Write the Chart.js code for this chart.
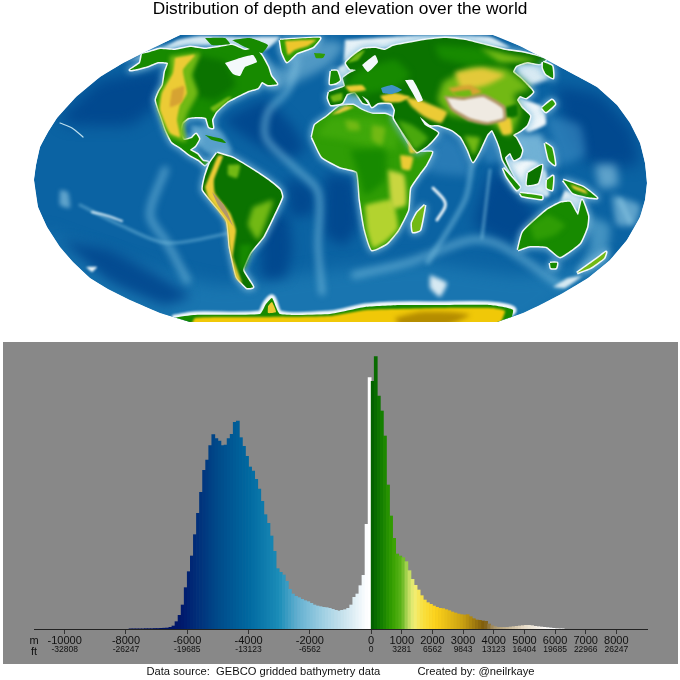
<!DOCTYPE html>
<html>
<head>
<meta charset="utf-8">
<script src="https://cdn.jsdelivr.net/npm/chart.js@4/dist/chart.umd.min.js"></script>
<style>
  html, body { margin: 0; padding: 0; background: #fff; }
  #page { position: relative; width: 680px; height: 680px; overflow: hidden; }
  #panel { position: absolute; left: 3px; top: 342px; width: 675px; height: 322px; background: #888888; }
  #mapChart { position: absolute; left: 0; top: 0; filter: blur(0.4px); }
  #histChart { position: absolute; left: 0; top: 340px; filter: blur(0.3px); }
</style>
</head>
<body>
<div id="page">
  <div id="panel"></div>
  <canvas id="mapChart" width="680" height="340"></canvas>
  <canvas id="histChart" width="680" height="340"></canvas>
</div>
<script>
// histogram, 100 m bins
const binWidth = 100;
const oceanStart = -7900;
const oceanHeights = [0.5,0.5,0.5,0.5,0.5,1,1,1,1.5,1.5,2,2.5,3,5,9,22,41,72,124,
  172,219,283,347,410,476,507,550,583,571,564,550,552,571,584,620,624,574,548,518,486,474,449,420,383,343,317,279,233,181,
  170,162,143,119,105,98,94,89,85,82,77,72,69,67,65,64,62,59,56,54,
  56,58,62,72,95,105,130,161,314,754];
const landStart = 0;
const landHeights = [743,817,699,654,579,432,339,272,225,219,214,202,175,149,131,117,100,87,79,74,
  69,65,62,61,58,55,51,48,45,43,42,43,37,31,27,26,24,23,15,10,
  7,5,5,5,5,6,7,8,9,10,11,11,10,8,7,6,5,4,3,2,1,0.5,0.5];

// axis labels
const metreTicks = [-11000,-10000,-8000,-6000,-4000,-2000,0,1000,2000,3000,4000,5000,6000,7000,8000];
const metreLabels = ['m','-10000','-8000','-6000','-4000','-2000','0','1000','2000','3000','4000','5000','6000','7000','8000'];
const feetLabels = ['ft','-32808','-26247','-19685','-13123','-6562','0','3281','6562','9843','13123','16404','19685','22966','26247'];

const depthStops = [-7500,-6200,-5000,-4000,-3000,-2400,-1500,-800,-100];
const depthColours = ['#00105a','#00186c','#004a8a','#0068a0','#1b8db8','#62afd0','#a4d2e4','#cfe6f0','#ffffff'];
const landStops = [0,300,700,1000,1200,1400,1700,2100,3000,3700,4000,5000,5800];
const landColours = ['#005c00','#0f7a00','#35a000','#5cb41a','#b6d95c','#f1ee78','#f8e040','#fcd21a','#c9a012','#7d5a0c','#a89468','#e8dcc8','#ffffff'];

// map outlines in map units
const outline = [[180,35],[493,35],[520,46],[547,60],[575,75],[597,87],[617,105],[630,123],[640,143],[645,163],[647,183],[645,200],[640,217],[627,240],[610,260],[588,278],[563,293],[540,305],[523,313],[497,322],[190,322],[160,313],[130,300],[108,289],[90,278],[73,262],[60,247],[47,227],[38,207],[34,180],[36,165],[40,147],[48,132],[57,118],[76,97],[100,77],[123,63],[153,48]];
const southBand = [[40,230],[130,262],[220,285],[330,270],[420,262],[520,275],[620,260],[563,300],[523,325],[190,330],[110,300]];
const deepNePacific = [[100,80],[165,70],[157,105],[130,125],[70,125],[60,118]];
const deepNwPacific = [[555,85],[600,95],[632,130],[638,165],[600,165],[585,160],[565,125]];
const deepAtlantic = [[222,120],[265,100],[292,125],[305,150],[285,158],[250,140]];
const deepIndian = [[498,165],[530,205],[545,230],[510,243],[475,225],[485,185]];
const deepSAtlantic = [[262,217],[287,215],[292,250],[285,277],[262,278]];
const deepBrazil = [[287,177],[315,190],[312,215],[290,215]];
const deepSPacific = [[60,240],[110,250],[190,295],[165,305],[110,282]];
const deepAngola = [[325,175],[352,178],[358,225],[345,245],[325,235]];
const ridgeAtlantic = [[297,60],[288,90],[268,112],[266,138],[292,165],[318,192],[318,245],[322,292]];
const ridgePacific = [[165,170],[150,215],[167,243],[187,280]];
const ridgeSouthPacific = [[80,205],[120,225],[167,243],[235,232]];
const ridgeIndian = [[490,170],[482,238]];
const ridgeSwIndian = [[355,275],[410,262],[470,240],[500,245],[560,285]];
const ridgeNorth = [[472,165],[465,200],[428,262]];
const ridgeTonga = [[620,200],[630,222]];
const hawaiiChain = [[60,123],[72,128],[83,137]];
const seamountsSouth = [[92,212],[108,216],[122,221]];
const madagascarRidge = [[433,188],[444,200],[445,207],[437,220]];
const kerguelen = [[430,275],[447,283],[440,297],[430,288]];
const campbell = [[553,287],[568,278],[582,276],[565,288]];
const edgePatch = [[86,267],[97,267],[92,272]];
const tongaPlateau = [[60,190],[68,192],[70,208],[60,205]];
const fijiPlateau = [[612,195],[640,205],[635,225],[617,225]];
const ontongPlateau = [[595,165],[615,165],[618,185],[600,188]];
const philippineSea = [[545,115],[580,125],[585,155],[560,165],[552,140]];
const arabianSea = [[440,130],[462,145],[472,175],[450,175],[425,170]];
const bengalBay = [[483,137],[498,140],[497,162],[485,162]];
const tasmanLight = [[585,215],[610,225],[605,260],[580,270],[590,245]];
const arcticNorth = [[345,40],[410,36],[490,37],[510,48],[470,45],[420,45],[375,50],[345,62]];
const arcticAlaska = [[123,63],[160,49],[178,40],[200,36],[240,37],[280,37],[265,50],[220,46],[185,46]];
const labradorSea = [[262,62],[285,68],[300,48],[330,40],[345,45],[330,65],[290,85],[272,90]];
const okhotsk = [[515,63],[543,64],[549,78],[530,85],[518,75]];
const chinaShelf = [[518,97],[543,107],[546,124],[528,132],[518,118]];
const southChinaSea = [[515,135],[542,135],[548,170],[525,168],[520,155]];
const sundaShelf = [[506,158],[522,160],[536,162],[546,172],[549,196],[530,196],[516,192],[505,175]];
const arafura = [[565,190],[585,198],[578,210],[560,205]];
const caribbean = [[190,125],[220,130],[232,150],[225,158],[205,152],[195,140]];
const northSea = [[338,68],[352,60],[358,70],[345,85],[335,85]];
const medLight = [[335,104],[355,95],[372,108],[395,112],[394,118],[365,118],[345,112]];
const northAmerica = [[142,54],[150,52],[160,49],[175,50],[190,47],[205,49],[220,47],[232,45],[245,50],[255,48],[262,56],[268,67],[271,76],[277,84],[268,85],[262,82],[258,88],[248,91],[236,97],[228,101],[222,106],[216,112],[212,120],[213,128],[209,127],[206,118],[197,117],[188,118],[182,123],[180,133],[184,140],[192,138],[196,134],[199,139],[195,146],[190,150],[197,154],[203,161],[208,162],[205,165],[199,160],[190,155],[181,148],[172,142],[166,130],[162,118],[159,110],[156,100],[159,92],[163,85],[165,72],[168,63],[158,62],[148,66],[137,69],[130,70],[140,63]];
const hudsonBay = [[225,63],[240,58],[253,55],[257,62],[245,67],[240,76],[233,74]];
const baffin = [[232,40],[250,38],[268,45],[262,53],[245,47]];
const arcticIslands = [[205,38],[225,38],[230,44],[212,45]];
const cuba = [[205,135],[222,139],[226,143],[212,140]];
const rockies = [[175,58],[195,55],[183,70],[187,93],[180,105],[177,120],[180,137],[170,133],[160,110],[162,93],[173,73]];
const rockiesEdge = [[170,56],[200,53],[192,75],[198,93],[188,112],[184,125],[186,142],[168,135],[158,108],[160,92],[170,73]];
const colorado = [[172,90],[184,86],[182,102],[170,107]];
const canadaDark = [[195,55],[225,62],[235,85],[215,100],[195,95],[192,72]];
const appalachian = [[210,108],[228,97],[232,97],[214,112]];
const greenland = [[280,40],[320,38],[313,47],[297,53],[287,62],[282,52]];
const greenlandIce = [[285,41],[316,40],[308,46],[295,50],[288,55]];
const iceland = [[314,53],[325,54],[323,58],[316,58]];
const southAmerica = [[217,153],[233,158],[253,170],[268,180],[280,190],[282,197],[273,217],[263,237],[250,253],[243,270],[253,287],[247,288],[237,277],[230,247],[227,220],[203,190],[205,177],[210,163]];
const andes = [[205,187],[212,170],[218,156],[223,156],[214,180],[215,193],[230,213],[236,230],[233,257],[242,283],[236,278],[230,250],[226,222],[208,197]];
const altiplano = [[212,192],[224,205],[233,226],[230,222],[218,205]];
const guiana = [[228,165],[240,165],[237,178],[228,175]];
const brazilHigh = [[253,207],[273,200],[266,222],[258,240],[248,225]];
const pampas = [[240,245],[252,245],[245,268],[240,270]];
const africa = [[312,137],[315,125],[325,118],[330,114],[340,106],[353,105],[362,110],[373,114],[385,114],[394,118],[402,135],[412,150],[420,152],[432,152],[426,165],[420,173],[410,188],[408,210],[398,230],[387,243],[372,250],[365,230],[360,200],[357,172],[340,167],[322,157]];
const sahel = [[330,118],[375,118],[398,130],[395,150],[345,140],[318,135]];
const saharaSpots = [[345,120],[358,122],[360,130],[348,130]];
const ahaggar = [[372,125],[385,128],[382,145],[372,140]];
const congo = [[350,150],[385,150],[385,180],[365,195],[358,172]];
const southAfrica = [[365,205],[392,200],[398,228],[386,241],[373,248],[367,230]];
const eastAfrica = [[388,170],[404,175],[406,205],[392,208]];
const ethiopia = [[400,155],[413,157],[410,170],[402,169]];
const atlas = [[331,115],[345,106],[354,107],[340,113]];
const madagascar = [[425,205],[420,230],[413,232],[412,223],[417,213]];
const eurasia = [[329,92],[338,89],[345,86],[343,78],[350,73],[356,70],[350,69],[346,63],[353,56],[363,49],[375,48],[385,50],[393,46],[408,43],[425,40],[445,38],[465,40],[485,45],[505,50],[525,53],[546,59],[540,64],[527,62],[516,66],[513,72],[520,78],[527,85],[533,92],[526,98],[520,96],[517,100],[522,108],[530,116],[527,125],[520,131],[513,135],[516,138],[522,150],[520,157],[514,160],[510,153],[505,158],[510,170],[518,185],[510,172],[503,160],[500,148],[497,140],[492,130],[487,135],[480,150],[473,162],[468,150],[461,137],[452,130],[438,125],[430,125],[420,117],[425,125],[438,133],[428,145],[417,152],[408,140],[400,128],[394,118],[395,110],[391,103],[378,103],[372,107],[368,100],[362,96],[368,104],[363,103],[355,92],[347,94],[342,103],[331,105],[328,98]];
const blackSea = [[381,88],[392,85],[402,90],[392,94],[383,93]];
const caspian = [[405,80],[413,80],[423,100],[418,102],[412,92]];
const baltic = [[362,65],[375,55],[378,62],[368,72]];
const uk = [[331,71],[337,71],[340,80],[336,83],[330,84]];
const kamchatka = [[543,62],[552,66],[553,78],[546,74],[543,68]];
const japan = [[542,108],[552,100],[555,104],[546,112]];
const sibLight = [[435,45],[480,48],[510,60],[470,65],[440,58]];
const eastSiberia = [[480,48],[512,55],[538,60],[520,62],[500,62]];
const europeMid = [[345,88],[356,72],[395,60],[410,75],[395,88],[375,92],[355,95]];
const norway = [[347,63],[356,54],[365,50],[358,60]];
const alps = [[345,86],[362,85],[366,90],[350,92]];
const iberia = [[330,96],[342,93],[342,100],[333,102]];
const turkey = [[380,96],[395,93],[410,97],[400,102],[385,102]];
const iran = [[405,97],[420,100],[432,105],[447,112],[441,123],[425,117],[412,107]];
const centralAsia = [[443,82],[470,68],[505,68],[530,88],[514,95],[520,112],[510,136],[490,122],[450,115],[438,100]];
const mongolia = [[455,72],[482,68],[505,75],[487,85],[462,90]];
const tianShan = [[448,88],[470,85],[482,92],[460,98]];
const tarim = [[452,92],[470,90],[472,97],[458,97]];
const tibetRim = [[444,96],[464,97],[484,94],[505,106],[506,120],[487,125],[468,121],[451,110]];
const tibet = [[447,98],[463,100],[483,97],[502,108],[503,118],[487,122],[470,118],[453,108]];
const yunnan = [[497,121],[510,118],[512,133],[503,135]];
const sichuan = [[504,108],[517,104],[518,116],[507,118]];
const deccan = [[464,136],[480,138],[474,155]];
const arabia = [[397,120],[412,125],[428,138],[415,150],[408,140]];
const yemen = [[408,140],[413,150],[418,152],[410,153]];
const sumatra = [[503,168],[520,187],[517,190],[507,177]];
const borneo = [[528,173],[542,165],[538,183],[527,185]];
const java = [[520,193],[542,196],[542,199],[522,196]];
const sulawesi = [[547,180],[553,176],[552,190],[547,188]];
const philippines = [[545,143],[552,148],[555,165],[549,160]];
const newGuinea = [[563,180],[583,187],[597,198],[587,197],[573,193]];
const newGuineaHigh = [[570,184],[585,190],[588,194],[574,189]];
const australia = [[518,250],[523,232],[547,210],[560,203],[570,202],[578,215],[582,200],[588,216],[587,227],[580,243],[560,257],[547,247],[530,246]];
const ausLight = [[530,225],[548,215],[565,225],[555,235],[535,240]];
const tasmania = [[550,263],[557,263],[556,268],[551,268]];
const newZealand = [[577,273],[598,258],[606,252],[604,258],[590,268]];
const antarctica = [[170,330],[175,318],[195,315],[260,314],[266,304],[272,298],[280,314],[330,314],[365,307],[400,305],[440,305],[490,305],[513,310],[505,330]];
const antarcticCoast = [[175,318],[195,315],[260,314],[266,304],[272,298],[280,314],[330,314],[365,307],[400,305],[440,305],[490,305],[513,310],[500,320]];
const antarcticIce = [[190,330],[195,318],[260,317],[330,316],[366,310],[440,308],[492,308],[505,311],[495,330]];
const antarcticDark = [[395,318],[420,312],[450,312],[470,315],[445,326],[400,326]];
const peninsula = [[268,306],[272,302],[276,312],[268,313]];

const mapShape = (pts, fill, blur, border, width) => ({
  data: pts.concat([pts[0]]).map(p => ({ x: p[0], y: p[1] })),
  showLine: true, fill: 'shape', backgroundColor: fill,
  borderColor: border || 'transparent', borderWidth: width || 0,
  pointRadius: 0, tension: 0.15, clip: false, blur: blur || 0
});
const mapLine = (pts, colour, width, blur) => ({
  data: pts.map(p => ({ x: p[0], y: p[1] })),
  showLine: true, fill: false, borderColor: colour, borderWidth: width,
  borderCapStyle: 'round', pointRadius: 0, tension: 0.3, clip: false, blur: blur || 0
});
const coast = (pts, fill) => [
  mapShape(pts, 'rgba(130,190,222,0.6)', 3, 'rgba(130,190,222,0.6)', 7),
  mapShape(pts, '#f2f8fb', 0.7, '#f2f8fb', 3),
  mapShape(pts, fill)
];
const ridge = (pts, width) => mapLine(pts, 'rgba(120,190,222,0.55)', width, width * 0.45);
const patch = (pts, colour, blur) => mapShape(pts, colour, blur === undefined ? 1.2 : blur);

const GREEN = '#178a00', DARK = '#0b7300', MID = '#2f9d05', LIME = '#72b914', YELLOW = '#eccb35', ORANGE = '#d6a332', TAN = '#b3976a', SNOW = '#efeae2', DEEP = 'rgba(0,68,140,0.85)', PALE = 'rgba(150,205,230,0.6)', LIGHTER = 'rgba(60,140,195,0.6)';

// listed back to front, reversed below as Chart.js paints the last dataset first
const mapLayers = [
  mapShape(outline, '#0b63a3'),
  patch(southBand, 'rgba(35,130,185,0.6)', 8),
  patch(deepNePacific, DEEP, 7), patch(deepNwPacific, DEEP, 7), patch(deepAtlantic, DEEP, 6),
  patch(deepIndian, DEEP, 7), patch(deepSAtlantic, DEEP, 6), patch(deepBrazil, DEEP, 6), patch(deepSPacific, DEEP, 6), patch(deepAngola, DEEP, 6),
  patch(philippineSea, LIGHTER, 4), patch(arabianSea, LIGHTER, 5), patch(bengalBay, LIGHTER, 3), patch(ontongPlateau, PALE, 4),
  ridge(ridgeAtlantic, 7), ridge(ridgePacific, 8), ridge(ridgeSouthPacific, 3),
  ridge(ridgeIndian, 3), ridge(ridgeSwIndian, 8), ridge(ridgeNorth, 5), ridge(ridgeTonga, 5),
  mapLine(hawaiiChain, '#bfe0ee', 1.2, 0.4), mapLine(seamountsSouth, '#dceef6', 2, 1),
  mapLine(madagascarRidge, '#e8f3f8', 3, 0.8),
  patch(tongaPlateau, PALE, 2), patch(fijiPlateau, PALE, 3), patch(tasmanLight, 'rgba(105,178,214,0.6)', 4),
  patch(kerguelen, '#d6e9f2', 2), patch(campbell, '#d6e9f2', 1.5), patch(edgePatch, '#e6f2f7', 1),
  patch(arcticNorth, '#e8f3f8', 1.5), patch(arcticAlaska, '#d8eaf3', 1.5), patch(labradorSea, 'rgba(150,205,230,0.5)', 5),
  patch(okhotsk, '#d8eaf3', 2), patch(chinaShelf, '#eef6fa', 1.5), patch(southChinaSea, 'rgba(130,190,222,0.85)', 3),
  patch(sundaShelf, '#f2f8fb', 1.5), patch(arafura, '#f2f8fb', 1.5), patch(caribbean, 'rgba(120,185,220,0.7)', 2),
  patch(northSea, '#e8f3f8', 1.5), patch(medLight, 'rgba(120,185,220,0.85)', 2),
  ...coast(northAmerica, GREEN),
  patch(canadaDark, DARK, 3), patch(appalachian, LIME, 1), patch(rockiesEdge, LIME, 2), patch(rockies, YELLOW), patch(colorado, ORANGE),
  patch(hudsonBay, '#f4f9fb', 0.6), patch(baffin, GREEN, 0.6), patch(arcticIslands, GREEN, 0.6), patch(cuba, GREEN, 0.4),
  ...coast(greenland, MID), patch(greenlandIce, '#edc62c', 1), patch(iceland, MID, 0.4),
  ...coast(southAmerica, DARK),
  patch(brazilHigh, LIME, 2.5), patch(pampas, GREEN, 2), patch(guiana, LIME, 1.5), patch(andes, YELLOW, 0.8), patch(altiplano, TAN, 0.6),
  ...coast(africa, MID),
  patch(sahel, '#3fa80a', 3), patch(congo, GREEN, 3), patch(saharaSpots, LIME, 2), patch(ahaggar, LIME, 2),
  patch(southAfrica, '#b3d32f', 2), patch(eastAfrica, '#c9d640', 2), patch(ethiopia, YELLOW, 1.5), patch(atlas, YELLOW, 1),
  ...coast(madagascar, LIME),
  ...coast(eurasia, DARK),
  patch(europeMid, GREEN, 3), patch(norway, LIME, 1), patch(sibLight, GREEN, 3), patch(eastSiberia, LIME, 2.5), patch(centralAsia, LIME, 3), patch(mongolia, '#e3c93a', 2.5), patch(tianShan, ORANGE, 1.5),
  patch(alps, YELLOW, 1), patch(iberia, LIME, 1), patch(turkey, YELLOW, 1.2), patch(iran, YELLOW, 1.5), patch(arabia, '#4aa80d', 2), patch(yemen, YELLOW, 0.8),
  patch(sichuan, DARK, 1.5), patch(yunnan, YELLOW, 1.5), patch(deccan, LIME, 2), patch(tarim, LIME, 1),
  patch(tibetRim, TAN, 1.2), patch(tibet, SNOW, 0.8),
  patch(blackSea, '#3f93c4', 0.5), patch(caspian, '#f4f9fb', 0.4), patch(baltic, '#f2f8fb', 0.6),
  ...coast(uk, GREEN), ...coast(kamchatka, GREEN), ...coast(japan, MID),
  ...coast(sumatra, GREEN), ...coast(borneo, DARK), ...coast(java, MID), ...coast(sulawesi, MID), ...coast(philippines, MID),
  ...coast(newGuinea, GREEN), patch(newGuineaHigh, YELLOW, 0.8),
  ...coast(australia, GREEN), patch(ausLight, MID, 2.5), ...coast(tasmania, GREEN), ...coast(newZealand, LIME),
  mapLine(antarcticCoast, '#f2f8fb', 7, 1), patch(antarctica, GREEN, 0.3), patch(antarcticIce, '#f0c808', 0.8), patch(antarcticDark, '#b48c00', 2.5), patch(peninsula, YELLOW, 0.5)
];

// clips the layers to the map outline and softens each layer by its blur setting
const mapPainter = {
  id: 'mapPainter',
  beforeDatasetsDraw(chart) {
    const { ctx, scales } = chart;
    ctx.save();
    ctx.beginPath();
    outline.forEach((p, i) => {
      const x = scales.x.getPixelForValue(p[0]), y = scales.y.getPixelForValue(p[1]);
      if (i) ctx.lineTo(x, y); else ctx.moveTo(x, y);
    });
    ctx.closePath();
    ctx.clip();
  },
  afterDatasetDraw(chart, args) {
    const next = chart.data.datasets[args.index - 1];
    chart.ctx.filter = next && next.blur ? 'blur(' + next.blur + 'px)' : 'none';
  },
  afterDatasetsDraw(chart) {
    chart.ctx.filter = 'none';
    chart.ctx.restore();
  }
};

new Chart(document.getElementById('mapChart'), {
  type: 'scatter',
  data: { datasets: mapLayers.reverse() },
  plugins: [mapPainter],
  options: {
    responsive: false, animation: false, events: [],
    layout: { padding: 0 },
    scales: {
      x: { type: 'linear', display: false, min: 0, max: 680 },
      y: { type: 'linear', display: false, min: 28, max: 340, reverse: true }
    },
    plugins: {
      legend: { display: false }, tooltip: { enabled: false },
      title: { display: true, text: 'Distribution of depth and elevation over the world', color: '#000',
        font: { family: 'Liberation Sans', size: 17.3, weight: 'normal', lineHeight: '18px' }, padding: { top: 0, bottom: 10 } }
    }
  }
});

function hexRgb(h) { return [1, 3, 5].map(i => parseInt(h.substr(i, 2), 16)); }
function colourAt(v, stops, colours) {
  if (v <= stops[0]) return colours[0];
  for (let i = 1; i < stops.length; i++) {
    if (v <= stops[i]) {
      const t = (v - stops[i - 1]) / (stops[i] - stops[i - 1]);
      const a = hexRgb(colours[i - 1]), b = hexRgb(colours[i]);
      return 'rgb(' + a.map((c, k) => Math.round(c + (b[k] - c) * t)).join(',') + ')';
    }
  }
  return colours[colours.length - 1];
}

const oceanBars = oceanHeights.map((h, i) => ({ x: oceanStart + binWidth * i + binWidth / 2, y: h }));
const landBars = landHeights.map((h, i) => ({ x: landStart + binWidth * i + binWidth / 2, y: h }));
const barColours = oceanBars.map(b => colourAt(b.x, depthStops, depthColours))
  .concat(landBars.map(b => colourAt(b.x, landStops, landColours)));

const setTicks = scale => { scale.ticks = metreTicks.map(v => ({ value: v })); };

new Chart(document.getElementById('histChart'), {
  type: 'bar',
  data: { datasets: [{
    data: oceanBars.concat(landBars),
    backgroundColor: barColours,
    barPercentage: 1, categoryPercentage: 1, borderWidth: 0
  }] },
  options: {
    responsive: false, animation: false, events: [],
    layout: { padding: { left: 34, right: 33, top: 2, bottom: 0 } },
    scales: {
      x: {
        type: 'linear', min: -11000, max: 9000, position: 'bottom', weight: 0, offset: false,
        afterBuildTicks: setTicks,
        afterFit: s => { s.height = 16; },
        grid: { offset: false, drawOnChartArea: false, tickLength: 5, tickColor: c => (c.tick && c.tick.value === -11000) ? 'transparent' : '#333' },
        border: { color: '#222', width: 1 },
        ticks: { autoSkip: false, maxRotation: 0, padding: 0, color: '#111', font: { family: 'Liberation Sans', size: 11 },
          callback: v => metreLabels[metreTicks.indexOf(v)] }
      },
      xFeet: {
        type: 'linear', axis: 'x', min: -11000, max: 9000, position: 'bottom', weight: 1, offset: false,
        afterBuildTicks: setTicks,
        afterFit: s => { s.height = 20; },
        grid: { display: false, drawTicks: false, offset: false },
        border: { display: false },
        ticks: { autoSkip: false, maxRotation: 0, padding: 0, color: '#111',
          font: c => ({ family: 'Liberation Sans', size: c.tick && c.tick.value === -11000 ? 11 : 8.5 }),
          callback: v => feetLabels[metreTicks.indexOf(v)] }
      },
      y: { display: false, min: 0, max: 861 }
    },
    plugins: {
      legend: { display: false }, tooltip: { enabled: false },
      title: { display: true, position: 'bottom', color: '#111',
        text: 'Data source:  GEBCO gridded bathymetry data            Created by: @neilrkaye',
        font: { family: 'Liberation Sans', size: 11.2, weight: 'normal', lineHeight: '14px' }, padding: { top: 0, bottom: 1 } }
    }
  }
});
</script>
</body>
</html>
